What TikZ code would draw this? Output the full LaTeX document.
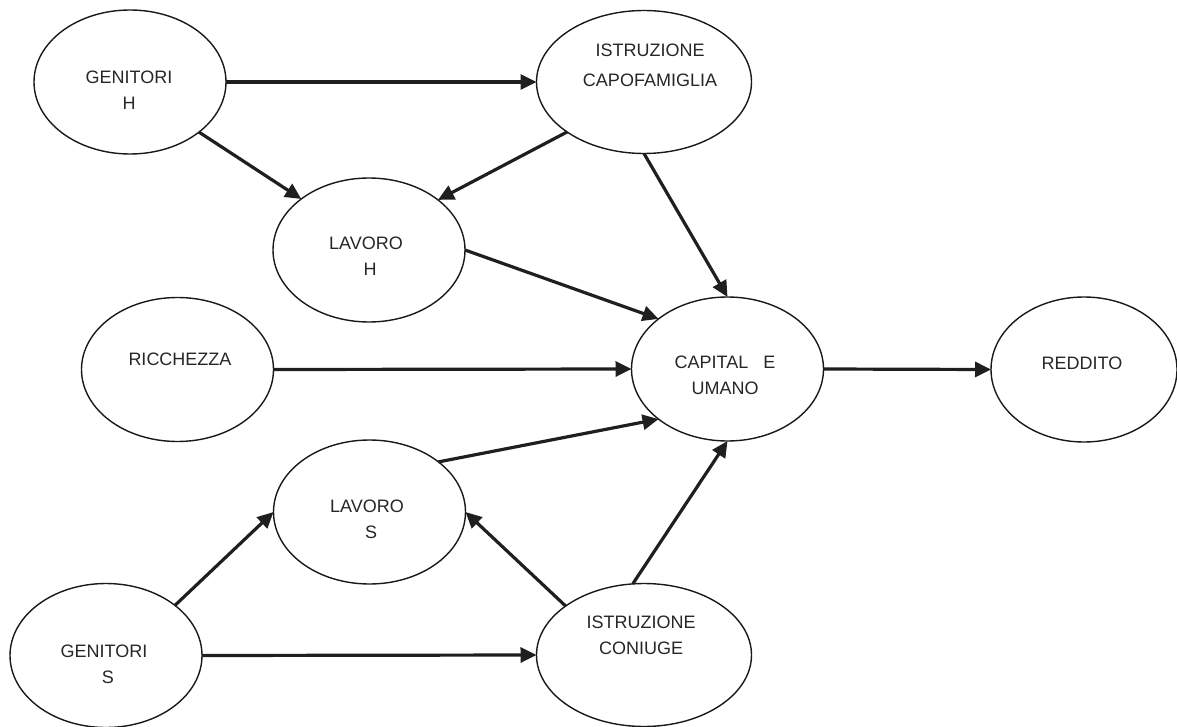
\documentclass[tikz,border=0pt]{standalone}
\usepackage{fontspec}
\setmainfont{Liberation Sans}
\usetikzlibrary{arrows.meta,shapes.geometric}
\begin{document}
\begin{tikzpicture}[x=1pt,y=-1pt,
  ell/.style={ellipse,draw=black!90,line width=1.4pt,inner sep=0pt,outer sep=0pt},
  small/.style={ell,minimum width=192pt,minimum height=144pt},
  wide/.style={ell,minimum width=215pt,minimum height=143pt},
  lbl/.style={inner sep=0pt,align=center,text=black!85,font=\fontsize{18}{26}\selectfont},
  arr/.style={line width=3.2pt,draw=black!88,-{Triangle[length=16pt,width=15pt]}},
]
\useasboundingbox (0,0) rectangle (1177,727);

% ellipses
\node[small] (gh)  at (130,82) {};
\node[wide]  (ic)  at (644,82) {};
\node[small] (lh)  at (369,250) {};
\node[small] (ric) at (177.5,369.5) {};
\node[small] (cu)  at (727.5,369) {};
\node[ell,minimum width=186pt,minimum height=145pt] (red) at (1084,369.5) {};
\node[small] (ls)  at (369.5,512) {};
\node[small] (gs)  at (106,655.5) {};
\node[wide]  (icon) at (644,655) {};

% labels
\node[lbl] (gh-t)  at (129,90) {GENITORI\\H};
\node[lbl,font=\fontsize{18}{30}\selectfont] (ic-t) at (650,65) {ISTRUZIONE\\CAPOFAMIGLIA};
\node[lbl] (lh-t)  at (366,256.5) {LAVORO\\\hspace*{8pt}H};
\node[lbl] (ric-t) at (180,359) {RICCHEZZA};
\node[lbl] (cu-t)  at (725,375.5) {CAPITAL\ \ \ E\\UMANO};
\node[lbl] (red-t) at (1082,363) {REDDITO};
\node[lbl] (ls-t)  at (367,519) {LAVORO\\\hspace*{8pt}S};
\node[lbl] (gs-t)  at (104,664) {GENITORI\\\hspace*{8pt}S};
\node[lbl] (icon-t) at (641,635) {ISTRUZIONE\\CONIUGE};

% connectors
\draw[arr] (gh.east) -- (ic.west);
\draw[arr] (gh.-36.9) -- (lh.143.1);
\draw[arr] (ic.213.9) -- (lh.36.5);
\draw[arr] (ic.south) -- (cu.north);
\draw[arr] (lh.east) -- (cu.144.8);
\draw[arr] (ric.east) -- (cu.west);
\draw[arr] (cu.east) -- (red.west);
\draw[arr] (ls.36.5) -- (cu.216.1);
\draw[arr] (icon.99.7) -- (cu.south);
\draw[arr] (gs.36.6) -- (ls.west);
\draw[arr] (gs.east) -- (icon.west);
\draw[arr] (icon.148.2) -- (ls.east);
\end{tikzpicture}
\end{document}
